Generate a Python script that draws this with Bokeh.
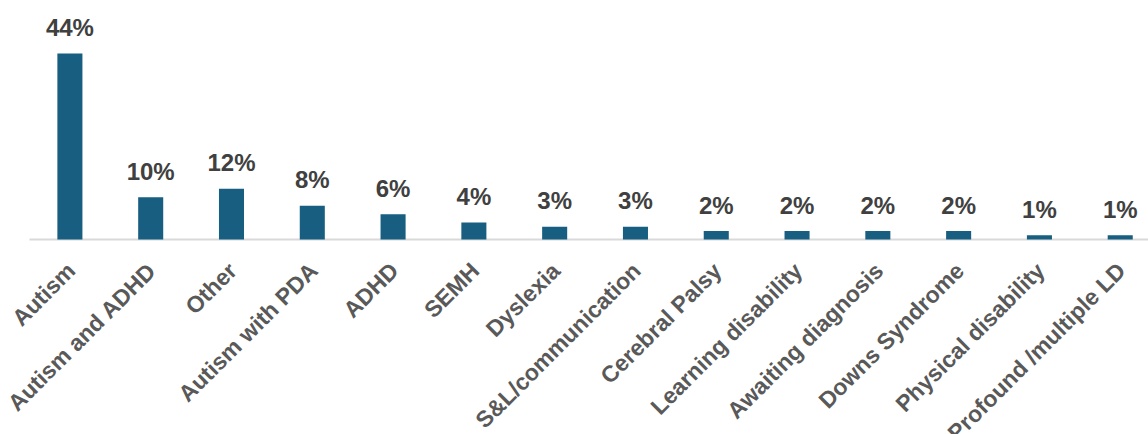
from bokeh.plotting import figure
from bokeh.models import ColumnDataSource, Range1d
from bokeh.core.properties import value
from bokeh.embed import file_html
from bokeh.resources import INLINE
import math

categories = ["Autism", "Autism and ADHD", "Other", "Autism with PDA", "ADHD", "SEMH",
              "Dyslexia", "S&L/communication", "Cerebral Palsy", "Learning disability",
              "Awaiting diagnosis", "Downs Syndrome", "Physical disability",
              "Profound /multiple LD"]
values = [44, 10, 12, 8, 6, 4, 3, 3, 2, 2, 2, 2, 1, 1]
labels = [f"{v}%" for v in values]

n = len(categories)
xs = list(range(n))
zeros = [0] * n
src = ColumnDataSource(dict(x=xs, v=values, lab=labels, cat=categories, base=zeros))

p = figure(width=1148, height=434, output_backend="svg", toolbar_location=None,
           x_range=Range1d(-0.859, 13.35), y_range=Range1d(-46.13, 56.54),
           min_border_left=0, min_border_right=0, min_border_top=0, min_border_bottom=0)
p.outline_line_color = None
p.xgrid.visible = False
p.ygrid.visible = False
p.xaxis.visible = False
p.yaxis.visible = False

# category axis baseline spanning the category bands
p.segment(x0=[-0.5], y0=[0], x1=[n - 0.5], y1=[0], line_color="#D9D9D9", line_width=2)

p.vbar(x="x", top="v", bottom=0, width=0.31, source=src, fill_color="#175E80",
       line_color=None)
p.text(x="x", y="v", text="lab", source=src, text_align="center",
       text_baseline="alphabetic", y_offset=-26, text_font=value("Liberation Sans"),
       text_font_style="bold", text_font_size="24px", text_color="#404040")

p.text(x="x", y="base", text="cat", source=src, angle=math.pi / 4,
       text_align="right", text_baseline="top", x_offset=-8, y_offset=18,
       text_font=value("Liberation Sans"), text_font_style="bold",
       text_font_size="23px", text_color="#595959")

open("out.html", "w").write(file_html(p, INLINE))
